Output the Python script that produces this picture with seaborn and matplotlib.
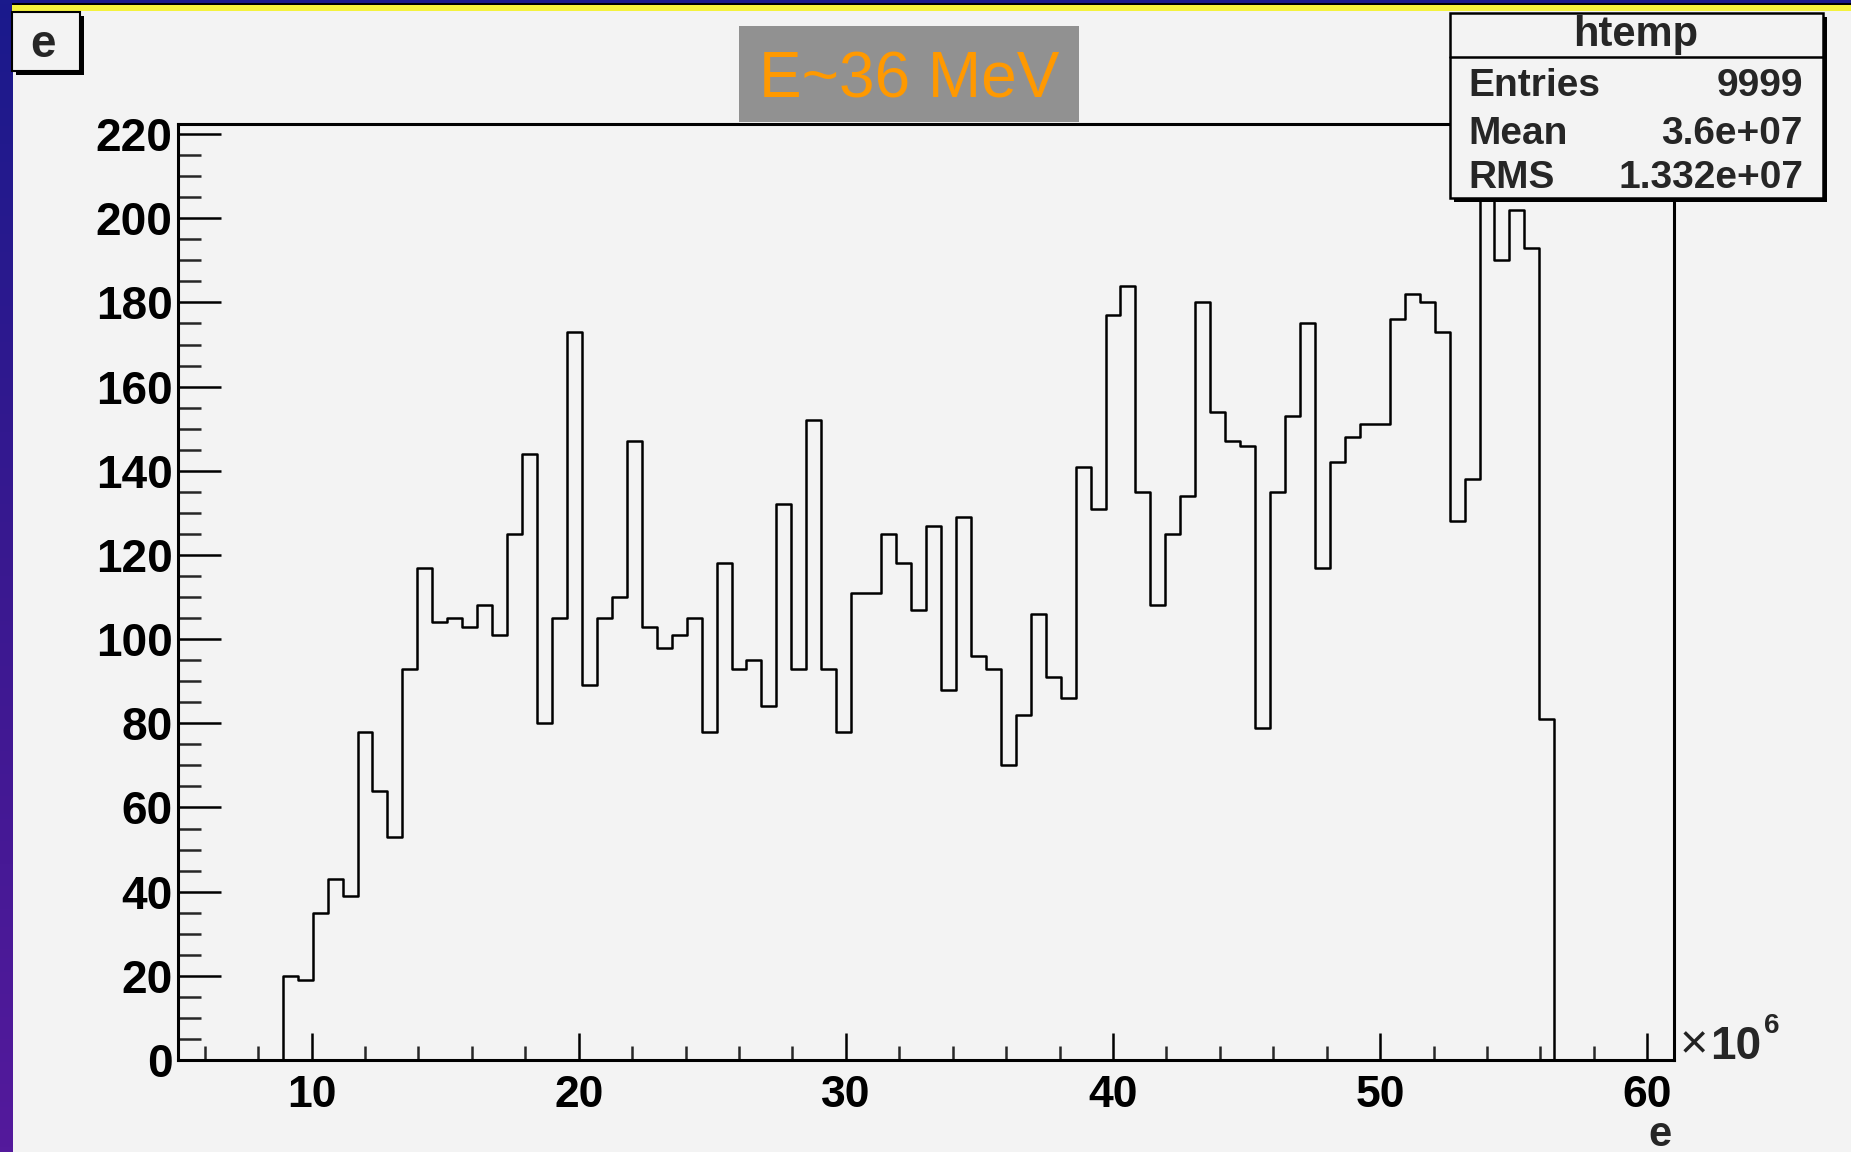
import numpy as np
import pandas as pd
import matplotlib.pyplot as plt
import seaborn as sns
from matplotlib.patches import Rectangle
from matplotlib.lines import Line2D
from matplotlib.colors import LinearSegmentedColormap
from matplotlib.ticker import MultipleLocator

# histogramme "htemp" : 100 bins entre 5e6 et 61e6 (axe en unites de 1e6)
e_min = 5.0
e_max = 61.0
n_bins = 100
counts = [0, 0, 0, 0, 0, 0, 0,
          20, 19, 35, 43, 39, 78, 64, 53, 93, 117, 104, 105, 103, 108, 101, 125, 144, 80, 105,
          173, 89, 105, 110, 147, 103, 98, 101, 105, 78, 118, 93, 95, 84, 132, 93, 152, 93, 78,
          111, 111, 125, 118, 107, 127, 88, 129, 96, 93,
          70, 82, 106, 91, 86, 141, 131, 177, 184, 135, 108, 125, 134, 180, 154, 147, 146, 79,
          135, 153, 175, 117, 142, 148, 151, 151, 176, 182, 180, 173,
          128, 138, 212, 190, 202, 193, 81,
          0, 0, 0, 0, 0, 0, 0, 0]

stat_names = ["Entries", "Mean", "RMS"]
stat_values = ["9999", "3.6e+07", "1.332e+07"]
hist_name = "htemp"
titulo = "E~36 MeV"

W, H = 1851, 1152
bg = '#f3f3f3'

sns.set_style("ticks")
plt.rcParams['font.family'] = ['Liberation Sans', 'DejaVu Sans']

fig = plt.figure(figsize=(W / 100, H / 100), dpi=100, facecolor=bg)


# coordenadas em pixels -> fracao da figura
def fx(px):
    return px / W


def fy(py):
    return 1 - py / H


def caixa(x0, y0, x1, y1, **kw):
    fig.patches.append(Rectangle((fx(x0), fy(y1)), fx(x1) - fx(x0), fy(y0) - fy(y1),
                                 transform=fig.transFigure, **kw))


# faixa lateral com gradiente (azul -> roxo)
gax = fig.add_axes([0, 0, fx(12), 1])
cmap = LinearSegmentedColormap.from_list('faixa', ['#1a1a8c', '#3a1890', '#541a9c'])
gax.imshow(np.linspace(0, 1, 256)[:, None], cmap=cmap, aspect='auto')
gax.axis('off')

# faixa superior azul / amarela
caixa(0, 0, W, 3.5, fc='#1a1a8c', lw=0)
caixa(12, 3.5, W, 4.8, fc='black', lw=0)
caixa(12, 4.8, W, 10.5, fc='#f4f23c', lw=0)

# eixo principal
ax = fig.add_axes([fx(178), fy(1060), fx(1674) - fx(178), fy(124) - fy(1060)])
ax.set_facecolor(bg)

largura = (e_max - e_min) / n_bins
df = pd.DataFrame({'e': e_min + largura * (np.arange(n_bins) + 0.5), 'n': counts})
sns.histplot(data=df, x='e', weights='n', bins=n_bins, binrange=(e_min, e_max),
             element='step', fill=False, color='black', linewidth=1.8, ax=ax)

ax.set_xlim(e_min, e_max)
ax.set_ylim(0, 222.4)
ax.set_xlabel("")
ax.set_ylabel("")

ax.xaxis.set_major_locator(MultipleLocator(10))
ax.xaxis.set_minor_locator(MultipleLocator(2))
ax.yaxis.set_major_locator(MultipleLocator(20))
ax.yaxis.set_minor_locator(MultipleLocator(5))

ax.tick_params(axis='x', which='major', direction='in', length=19.5, width=1.8,
               pad=11, labelsize=32, colors='black')
ax.tick_params(axis='x', which='minor', direction='in', length=10, width=1.8)
ax.tick_params(axis='y', which='major', direction='in', length=31, width=1.8,
               pad=4, labelsize=33, colors='black')
ax.tick_params(axis='y', which='minor', direction='in', length=16.5, width=1.8)
for lab in ax.get_xticklabels() + ax.get_yticklabels():
    lab.set_fontweight('bold')

for s in ax.spines.values():
    s.set_visible(True)
    s.set_color('black')
    s.set_linewidth(2.2)

# x10^6 e titulo do eixo
fig.text(fx(1680), fy(1058), "\u00d7", fontsize=35, ha='left', va='baseline', color='#222222')
fig.text(fx(1710), fy(1059), "10", fontsize=33, fontweight='bold', ha='left', va='baseline')
fig.text(fx(1764), fy(1033), "6", fontsize=20, fontweight='bold', ha='left', va='baseline')
fig.text(fx(1671), fy(1146), "e", fontsize=30, fontweight='bold', ha='right', va='baseline')

# caixa "e" no canto
caixa(16, 16, 83.5, 74.5, fc='black', lw=0)
caixa(12, 12, 80, 71, fc=bg, ec='black', lw=1.5)
fig.text(fx(43), fy(57), "e", fontsize=33, fontweight='bold', ha='center', va='baseline')

# caixa do titulo
caixa(739, 26, 1079, 122, fc='#919191', lw=0)
fig.text(fx(909), fy(98), titulo, fontsize=46, color='#ff9900', ha='center', va='baseline')

# caixa de estatisticas
caixa(1454, 17, 1827, 202, fc='black', lw=0)
caixa(1450, 13, 1823, 198, fc=bg, ec='black', lw=1.8)
fig.add_artist(Line2D([fx(1450), fx(1823)], [fy(57), fy(57)], color='black', lw=1.8,
                      transform=fig.transFigure))
fig.text(fx(1636), fy(46), hist_name, fontsize=30, fontweight='bold', ha='center', va='baseline')
for nome, valor, yy in zip(stat_names, stat_values, [96, 144, 188]):
    fig.text(fx(1468), fy(yy), nome, fontsize=28, fontweight='bold', ha='left', va='baseline')
    fig.text(fx(1803), fy(yy), valor, fontsize=28, fontweight='bold', ha='right', va='baseline')

fig.savefig('out.png', dpi=100, facecolor=bg)
